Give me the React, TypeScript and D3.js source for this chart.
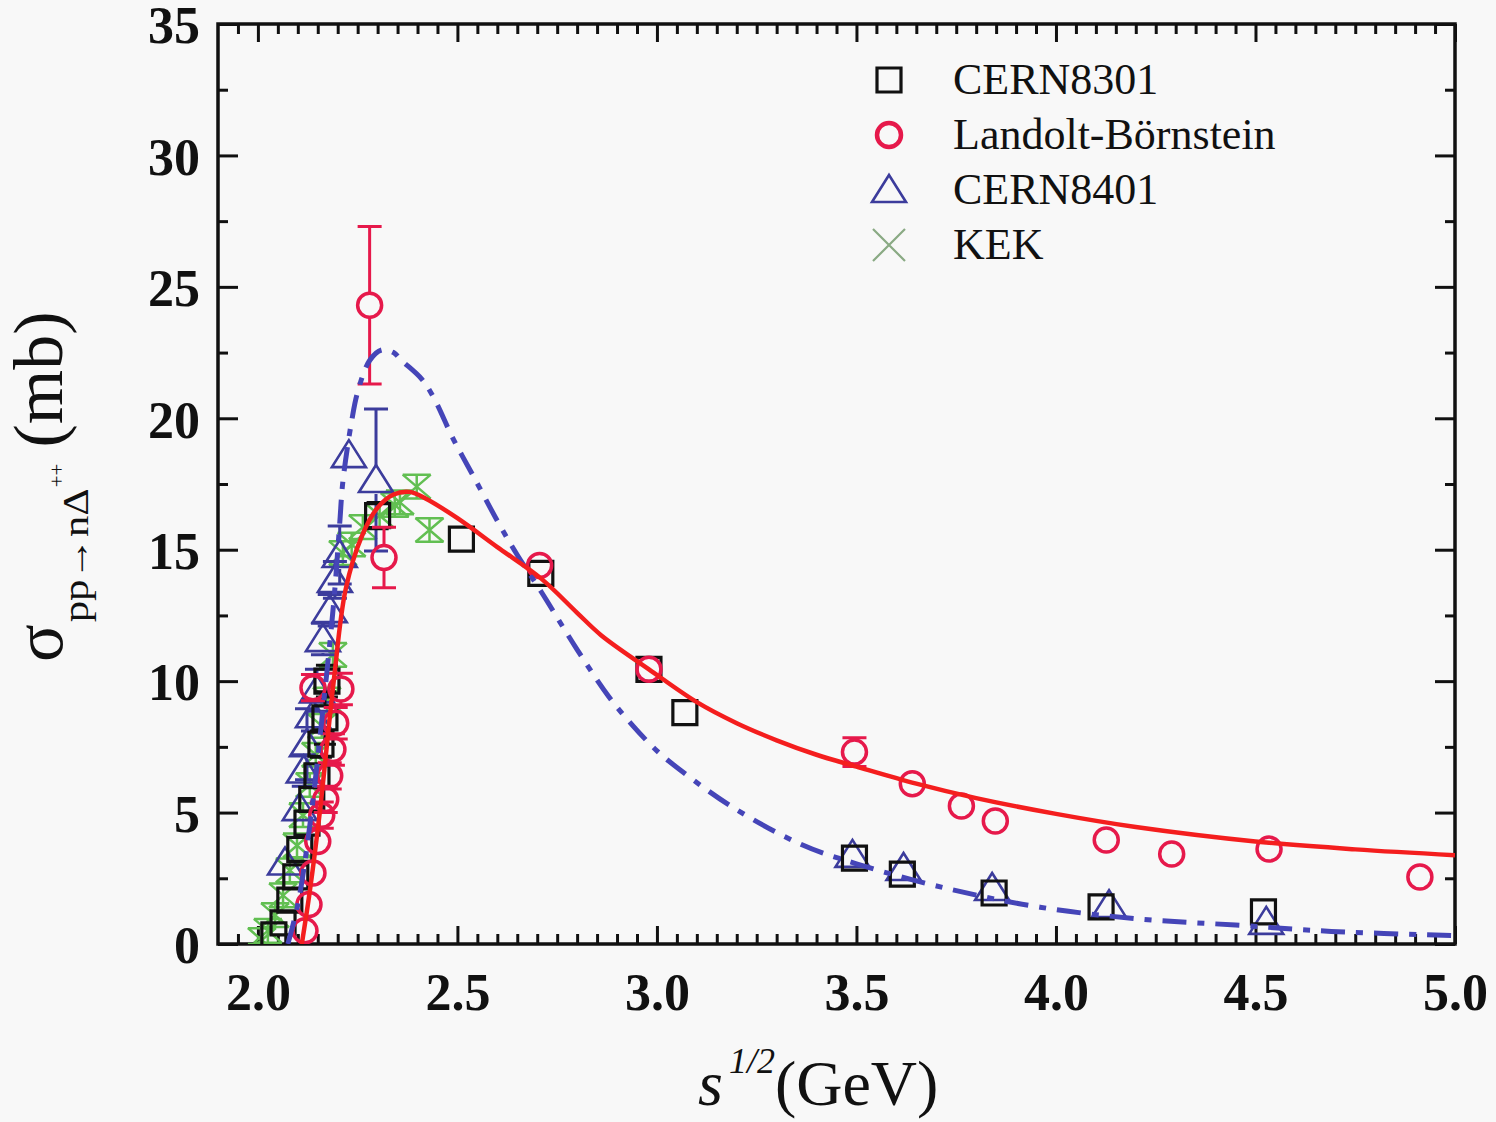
import React, { useEffect, useRef } from 'react';
import * as d3 from 'd3';

// [sqrt(s) GeV, sigma mb, error mb]
type Pt = [number, number, number];

const cern8301: Pt[] = [
  [2.04, 0.35, 0.2], [2.063, 0.8, 0.25], [2.08, 1.67, 0.3], [2.095, 2.55, 0.3],
  [2.105, 3.6, 0.35], [2.123, 4.6, 0.4], [2.135, 5.5, 0.4], [2.148, 6.4, 0.45],
  [2.158, 7.6, 0.5], [2.168, 8.6, 1.0], [2.173, 10.0, 0.6], [2.3, 16.3, 0.5],
  [2.51, 15.4, 0.4], [2.709, 14.1, 0.4], [2.98, 10.45, 0.4], [3.07, 8.8, 0.3],
  [3.495, 3.27, 0.25], [3.615, 2.66, 0.2], [3.845, 1.94, 0.2], [4.113, 1.41, 0.15],
  [4.52, 1.22, 0.15],
];

const landolt: Pt[] = [
  [2.118, 0.5, 0.3], [2.128, 1.5, 0.3], [2.138, 2.7, 0.4], [2.15, 3.9, 0.4],
  [2.16, 4.9, 0.5], [2.17, 5.5, 0.5], [2.18, 6.4, 0.5], [2.188, 7.4, 0.6],
  [2.195, 8.4, 0.6], [2.138, 9.75, 0.5], [2.208, 9.7, 0.6], [2.28, 24.3, 3.0],
  [2.316, 14.7, 1.15], [2.706, 14.4, 0.3], [2.98, 10.45, 0.4], [3.495, 7.3, 0.55],
  [3.64, 6.1, 0.3], [3.763, 5.25, 0.3], [3.848, 4.68, 0.3], [4.126, 3.96, 0.3],
  [4.29, 3.42, 0.25], [4.534, 3.61, 0.3], [4.912, 2.55, 0.25],
];

const cern8401: Pt[] = [
  [2.068, 3.1, 0.3], [2.105, 5.17, 0.5], [2.115, 6.6, 0.6], [2.123, 7.6, 1.35],
  [2.138, 8.7, 0.6], [2.148, 9.65, 0.8], [2.163, 11.6, 0.6], [2.18, 12.7, 0.6],
  [2.193, 13.85, 0.7], [2.205, 14.8, 1.1], [2.228, 18.6, 0.4], [2.296, 17.65, 2.7],
  [3.49, 3.39, 0.2], [3.618, 2.89, 0.2], [3.84, 2.13, 0.15], [4.133, 1.48, 0.15],
  [4.527, 0.84, 0.1],
];

const kek: Pt[] = [
  [2.01, 0.15, 0.45], [2.025, 0.5, 0.45], [2.043, 1.1, 0.45], [2.063, 1.85, 0.45],
  [2.08, 2.8, 0.45], [2.098, 3.75, 0.45], [2.113, 4.9, 0.45], [2.13, 6.05, 0.45],
  [2.145, 7.2, 0.45], [2.16, 8.3, 0.45], [2.173, 9.3, 0.45], [2.188, 11.0, 0.45],
  [2.213, 14.87, 0.45], [2.235, 15.2, 0.45], [2.263, 15.86, 0.45], [2.305, 16.3, 0.45],
  [2.343, 16.7, 0.45], [2.356, 16.8, 0.45], [2.398, 17.4, 0.45], [2.43, 15.75, 0.45],
];

// model curves
const fitSolid: [number, number][] = [
  [2.11, 0], [2.13, 2.0], [2.155, 5.0], [2.19, 10.0], [2.22, 13.5], [2.26, 15.5],
  [2.3, 16.6], [2.34, 17.1], [2.38, 17.2], [2.42, 16.95], [2.5, 16.2], [2.6, 15.1],
  [2.71, 13.9], [2.8, 12.6], [2.86, 11.75], [2.98, 10.45], [3.1, 9.2], [3.2, 8.4],
  [3.3, 7.75], [3.4, 7.2], [3.5, 6.75], [3.65, 6.1], [3.8, 5.55], [4.0, 4.95],
  [4.2, 4.45], [4.5, 3.9], [4.75, 3.6], [5.0, 3.38],
];

const fitDashDot: [number, number][] = [
  [2.075, 0], [2.1, 1.5], [2.13, 4.5], [2.16, 8.5], [2.19, 13.0], [2.205, 16.0],
  [2.213, 17.6], [2.235, 19.9], [2.25, 21.0], [2.28, 22.2], [2.31, 22.6], [2.34, 22.5],
  [2.36, 22.2], [2.41, 21.5], [2.44, 20.8], [2.49, 19.2], [2.54, 17.8], [2.6, 16.1],
  [2.65, 14.8], [2.71, 13.4], [2.8, 11.2], [2.88, 9.4], [2.94, 8.3], [3.0, 7.35],
  [3.06, 6.6], [3.19, 5.2], [3.36, 3.8], [3.5, 3.05], [3.73, 2.1], [3.96, 1.4],
  [4.21, 0.95], [4.45, 0.72], [4.69, 0.48], [5.0, 0.32],
];

const xTicks = [2.0, 2.5, 3.0, 3.5, 4.0, 4.5, 5.0];
const xMinor = d3.range(39, 101).map((i) => i / 20).filter((v) => (v * 2) % 1 !== 0);
const yTicks = [0, 5, 10, 15, 20, 25, 30, 35];
const yMinor = [2.5, 7.5, 12.5, 17.5, 22.5, 27.5, 32.5];
const legendLabels = ['CERN8301', 'Landolt-Börnstein', 'CERN8401', 'KEK'];

const W = 1496;
const H = 1122;
const serif = '"Liberation Serif", "Times New Roman", serif';
const ink = '#111';
const red = '#e6194b';
const navy = '#3c3c9c';
const green = '#62bf52';

type G = d3.Selection<SVGGElement, unknown, null, undefined>;

const square = 'M-12,-12H12V12H-12Z';
const triangle = 'M0,-15L17,12H-17Z';
const cross = 'M-14,-12L14,12M-14,12L14,-12';

const draw = (root: SVGSVGElement) => {
  const svg = d3.select(root);
  svg.selectAll('*').remove();

  const x = d3.scaleLinear().domain([1.9, 5.0]).range([218, 1455]);
  const y = d3.scaleLinear().domain([0, 35]).range([944, 24]);

  svg.append('rect').attr('width', W).attr('height', H).attr('fill', '#f8f8f8');
  svg
    .append('defs')
    .append('clipPath')
    .attr('id', 'plot-area')
    .append('rect')
    .attr('x', x(1.9))
    .attr('y', y(35))
    .attr('width', x(5) - x(1.9))
    .attr('height', y(0) - y(35));

  const style = (g: G, labels: boolean) => {
    g.select('.domain').remove();
    g.selectAll('.tick line').attr('stroke', ink).attr('stroke-width', 3);
    g.selectAll('.tick text')
      .attr('font-family', serif)
      .attr('font-weight', 'bold')
      .attr('font-size', 52)
      .attr('fill', ink)
      .attr('display', labels ? null : 'none');
  };

  // bottom / top
  const bottom = svg.append('g').attr('transform', `translate(0,${y(0)})`);
  bottom
    .append('g')
    .call(d3.axisBottom(x).tickValues(xTicks).tickSize(-18).tickPadding(29).tickFormat(d3.format('.1f')))
    .call((g) => style(g, true));
  bottom.append('g').call(d3.axisBottom(x).tickValues(xMinor).tickSize(-10)).call((g) => style(g, false));
  const top = svg.append('g').attr('transform', `translate(0,${y(35)})`);
  top.append('g').call(d3.axisTop(x).tickValues(xTicks).tickSize(-18)).call((g) => style(g, false));
  top.append('g').call(d3.axisTop(x).tickValues(xMinor).tickSize(-10)).call((g) => style(g, false));

  // left / right
  const left = svg.append('g').attr('transform', `translate(${x(1.9)},0)`);
  left
    .append('g')
    .call(d3.axisLeft(y).tickValues(yTicks).tickSize(-20).tickPadding(18).tickFormat(d3.format('d')))
    .call((g) => style(g, true))
    .call((g) => g.selectAll('.tick text').attr('dy', '0.36em'));
  left.append('g').call(d3.axisLeft(y).tickValues(yMinor).tickSize(-10)).call((g) => style(g, false));
  const right = svg.append('g').attr('transform', `translate(${x(5)},0)`);
  right.append('g').call(d3.axisRight(y).tickValues(yTicks).tickSize(-20)).call((g) => style(g, false));
  right.append('g').call(d3.axisRight(y).tickValues(yMinor).tickSize(-10)).call((g) => style(g, false));

  svg
    .append('rect')
    .attr('x', x(1.9))
    .attr('y', y(35))
    .attr('width', x(5) - x(1.9))
    .attr('height', y(0) - y(35))
    .attr('fill', 'none')
    .attr('stroke', ink)
    .attr('stroke-width', 3.5);

  const plot = svg.append('g').attr('clip-path', 'url(#plot-area)');

  // error bars start at the marker edge, Origin style
  const errorBars = (data: Pt[], color: string, half: number, cap: number, width: number) => {
    const g = plot.append('g').attr('stroke', color).attr('stroke-width', width).attr('fill', 'none');
    data.forEach(([xv, yv, e]) => {
      const cx = x(xv);
      const cy = y(yv);
      const hi = y(yv + e);
      const lo = y(Math.max(0, yv - e));
      const path = d3.path();
      if (cy - hi > half) {
        path.moveTo(cx, cy - half);
        path.lineTo(cx, hi);
        path.moveTo(cx - cap, hi);
        path.lineTo(cx + cap, hi);
      }
      if (lo - cy > half) {
        path.moveTo(cx, cy + half);
        path.lineTo(cx, lo);
        path.moveTo(cx - cap, lo);
        path.lineTo(cx + cap, lo);
      }
      g.append('path').attr('d', path.toString());
    });
  };

  const markers = (data: Pt[], d: string, color: string, width: number) => {
    plot
      .append('g')
      .selectAll('path')
      .data(data)
      .join('path')
      .attr('transform', (p) => `translate(${x(p[0])},${y(p[1])})`)
      .attr('d', d)
      .attr('fill', 'none')
      .attr('stroke', color)
      .attr('stroke-width', width);
  };

  errorBars(kek, green, 0, 14, 2.5);
  markers(kek, cross, green, 2.5);
  errorBars(cern8401, navy, 14, 12, 3);
  markers(cern8401, triangle, navy, 2.6);
  errorBars(cern8301, ink, 12, 11, 3);
  markers(cern8301, square, ink, 3.2);
  errorBars(landolt, red, 12, 12, 3);
  plot
    .append('g')
    .selectAll('circle')
    .data(landolt)
    .join('circle')
    .attr('cx', (p) => x(p[0]))
    .attr('cy', (p) => y(p[1]))
    .attr('r', 12)
    .attr('fill', 'none')
    .attr('stroke', red)
    .attr('stroke-width', 3.5);

  const line = d3
    .line<[number, number]>()
    .x((d) => x(d[0]))
    .y((d) => y(d[1]))
    .curve(d3.curveCatmullRom.alpha(0.5));

  plot
    .append('path')
    .attr('d', line(fitDashDot))
    .attr('fill', 'none')
    .attr('stroke', '#4545b8')
    .attr('stroke-width', 5)
    .attr('stroke-dasharray', '24 11 7 11');
  plot
    .append('path')
    .attr('d', line(fitSolid))
    .attr('fill', 'none')
    .attr('stroke', '#f41e1e')
    .attr('stroke-width', 4.5);

  // legend
  const legend = svg.append('g').attr('transform', 'translate(889,80)');
  const shapes = [
    { d: square, color: ink, w: 3.2 },
    { d: 'M12,0A12,12 0 1,1 -12,0A12,12 0 1,1 12,0Z', color: red, w: 4.5 },
    { d: triangle, color: navy, w: 2.6 },
    { d: 'M-16,-16L16,16M-16,16L16,-16', color: '#8aaa84', w: 2.2 },
  ];
  legendLabels.forEach((label, i) => {
    const row = legend.append('g').attr('transform', `translate(0,${i * 55})`);
    const s = shapes[i];
    row
      .append('path')
      .attr('d', s.d)
      .attr('fill', 'none')
      .attr('stroke', s.color)
      .attr('stroke-width', s.w);
    row
      .append('text')
      .attr('x', 64)
      .attr('y', 14)
      .attr('font-family', serif)
      .attr('font-size', 44)
      .attr('fill', ink)
      .text(label);
  });

  // x title
  const xt = svg
    .append('text')
    .attr('x', 698)
    .attr('y', 1105)
    .attr('font-family', serif)
    .attr('font-size', 64)
    .attr('fill', ink);
  xt.append('tspan').attr('font-style', 'italic').text('s');
  xt.append('tspan').attr('font-style', 'italic').attr('font-size', 36).attr('dx', 6).attr('dy', -32).text('1/2');
  xt.append('tspan').attr('dy', 32).text('(GeV)');

  // y title
  const yt = svg
    .append('text')
    .attr('transform', 'translate(62,662) rotate(-90)')
    .attr('font-family', serif)
    .attr('fill', ink);
  yt.append('tspan').attr('font-size', 70).text('σ');
  yt.append('tspan')
    .attr('font-size', 36)
    .attr('dy', 26)
    .attr('dx', 2)
    .attr('textLength', 134)
    .attr('lengthAdjust', 'spacingAndGlyphs')
    .text('pp→nΔ');
  yt.append('tspan').attr('font-size', 21).attr('dy', -24).attr('dx', 1).text('++');
  yt.append('tspan').attr('font-size', 70).attr('dy', -2).attr('dx', 16).text('(mb)');
};

const App = () => {
  const ref = useRef<SVGSVGElement>(null);
  useEffect(() => {
    if (ref.current) draw(ref.current);
  }, []);
  return (
    <svg
      ref={ref}
      width={W}
      height={H}
      viewBox={`0 0 ${W} ${H}`}
      style={{ position: 'absolute', left: 0, top: 0, display: 'block' }}
    />
  );
};

export default App;
